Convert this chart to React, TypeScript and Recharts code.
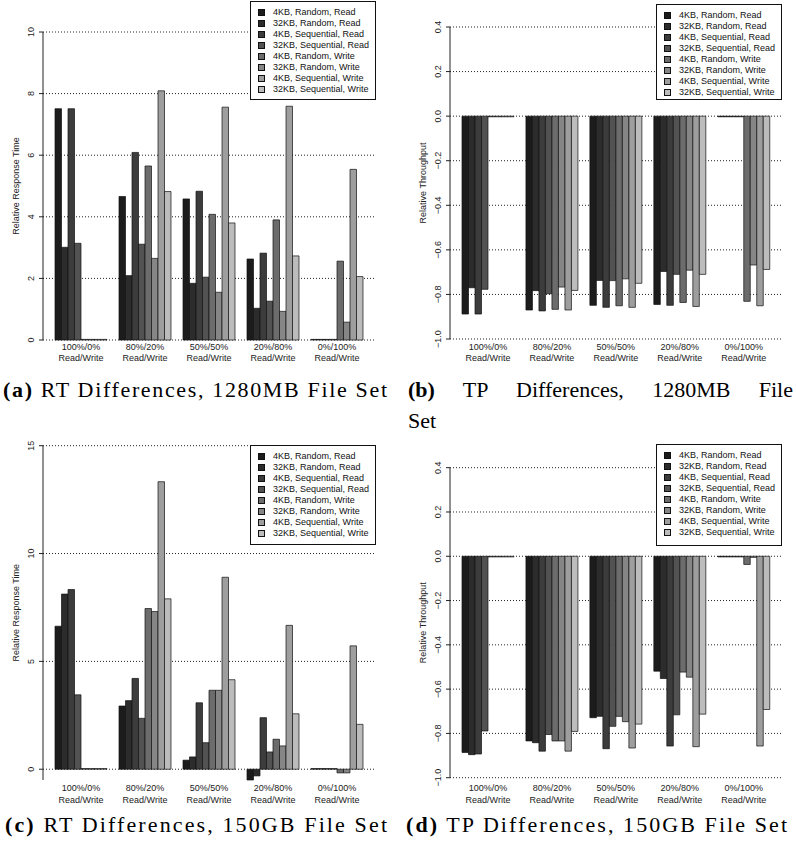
import React from 'react';
import { BarChart, Bar, XAxis, YAxis, CartesianGrid, Legend } from 'recharts';

const CATEGORIES = ['100%/0%', '80%/20%', '50%/50%', '20%/80%', '0%/100%'];
const CATEGORY_SUFFIX = 'Read/Write';
const SERIES = [
  '4KB, Random, Read',
  '32KB, Random, Read',
  '4KB, Sequential, Read',
  '32KB, Sequential, Read',
  '4KB, Random, Write',
  '32KB, Random, Write',
  '4KB, Sequential, Write',
  '32KB, Sequential, Write',
];
const COLORS = ['#1c1c1c', '#2c2c2c', '#3c3c3c', '#525252', '#6c6c6c', '#868686', '#9e9e9e', '#bcbcbc'];

const RT_TICKS_1280 = [0, 2, 4, 6, 8, 10];
const RT_TICKS_150 = [0, 5, 10, 15];
const TP_TICKS = [-1, -0.8, -0.6, -0.4, -0.2, 0, 0.2, 0.4];

// rows = series, columns = categories
const RT_1280MB = [
  [7.51, 4.66, 4.58, 2.63, 0.02],
  [3.01, 2.09, 1.84, 1.03, 0.02],
  [7.51, 6.09, 4.83, 2.82, 0.02],
  [3.14, 3.11, 2.04, 1.26, 0.02],
  [0.02, 5.65, 4.08, 3.9, 2.56],
  [0.02, 2.65, 1.55, 0.93, 0.58],
  [0.02, 8.09, 7.56, 7.59, 5.54],
  [0.02, 4.82, 3.8, 2.73, 2.06],
];

const TP_1280MB = [
  [-0.888, -0.87, -0.849, -0.845, -0.003],
  [-0.77, -0.783, -0.737, -0.697, -0.003],
  [-0.888, -0.874, -0.858, -0.849, -0.003],
  [-0.777, -0.797, -0.738, -0.71, -0.003],
  [-0.003, -0.867, -0.851, -0.836, -0.831],
  [-0.003, -0.767, -0.73, -0.691, -0.668],
  [-0.003, -0.87, -0.858, -0.854, -0.851],
  [-0.003, -0.782, -0.75, -0.71, -0.688],
];

const RT_150GB = [
  [6.63, 2.93, 0.42, -0.5, 0.03],
  [8.12, 3.18, 0.57, -0.31, 0.03],
  [8.33, 4.21, 3.08, 2.39, 0.03],
  [3.45, 2.36, 1.23, 0.8, 0.03],
  [0.03, 7.45, 3.66, 1.39, -0.17],
  [0.03, 7.31, 3.66, 1.08, -0.17],
  [0.03, 13.33, 8.9, 6.67, 5.72],
  [0.03, 7.9, 4.15, 2.57, 2.08],
];

const TP_150GB = [
  [-0.886, -0.834, -0.729, -0.519, -0.003],
  [-0.896, -0.842, -0.723, -0.552, -0.003],
  [-0.893, -0.88, -0.869, -0.857, -0.003],
  [-0.789, -0.805, -0.768, -0.716, -0.003],
  [-0.003, -0.834, -0.723, -0.523, -0.037],
  [-0.003, -0.834, -0.747, -0.546, -0.005],
  [-0.003, -0.88, -0.866, -0.86, -0.857],
  [-0.003, -0.791, -0.758, -0.713, -0.692],
];

const SANS = '"Liberation Sans", Arial, Helvetica, sans-serif';
const SERIF = '"Liberation Serif", "Times New Roman", serif';

function toRows(values: number[][]) {
  return CATEGORIES.map((cat, i) => {
    const row: any = { cat };
    values.forEach((s, k) => {
      row['s' + k] = s[i];
    });
    return row;
  });
}

const fmtInt = (v: number) => String(v);
const fmtTP = (v: number) => {
  const s = Math.abs(v).toFixed(1);
  return v < -1e-9 ? '\u2212' + s : s;
};

function XTick(props: any) {
  const { x, y, payload, o1, o2 } = props;
  return (
    <g>
      <text x={x} y={y + o1} textAnchor="middle" fontSize={9} fontFamily={SANS} fill="#222">
        {payload.value}
      </text>
      <text x={x} y={y + o2} textAnchor="middle" fontSize={9} fontFamily={SANS} fill="#222">
        {CATEGORY_SUFFIX}
      </text>
    </g>
  );
}

function YTick(props: any) {
  const { x, y, payload, fmt } = props;
  const bx = x - 5;
  return (
    <text x={bx} y={y} transform={`rotate(-90 ${bx} ${y})`} textAnchor="middle" fontSize={9} fontFamily={SANS} fill="#222">
      {fmt(payload.value)}
    </text>
  );
}

function LegendBox({ h }: { h: number }) {
  return (
    <div
      style={{
        boxSizing: 'border-box',
        width: 126,
        height: h,
        border: '1px solid #111',
        background: '#fff',
        padding: '5px 0 0 7px',
        fontFamily: SANS,
        fontSize: 9,
        color: '#111',
      }}
    >
      {SERIES.map((s, k) => (
        <div key={s} style={{ display: 'flex', alignItems: 'center', height: 11, lineHeight: '11px', whiteSpace: 'nowrap' }}>
          <span
            style={{
              display: 'inline-block',
              boxSizing: 'border-box',
              width: 7,
              height: 7,
              border: '1px solid #111',
              background: COLORS[k],
              marginRight: 8,
            }}
          />
          {s}
        </div>
      ))}
    </div>
  );
}

const X_AXIS_H = 30;

function Panel(p: any) {
  const data = toRows(p.values);
  return (
    <div style={{ position: 'absolute', left: p.left, top: p.top }}>
      <BarChart
        width={p.width}
        height={p.height}
        data={data}
        margin={{ top: p.mt, right: p.mr, bottom: p.mb - X_AXIS_H, left: 0 }}
        barGap={0}
      >
        <CartesianGrid
          vertical={false}
          horizontalValues={p.ticks}
          stroke="#222"
          strokeDasharray="1 2"
          strokeWidth={1}
        />
        <XAxis
          dataKey="cat"
          height={X_AXIS_H}
          axisLine={false}
          tickLine={false}
          tickSize={0}
          tickMargin={0}
          interval={0}
          padding={{ left: 6, right: 7 }}
          tick={(t: any) => <XTick {...t} o1={p.o1} o2={p.o2} />}
        />
        <YAxis
          width={p.yw}
          domain={p.domain}
          ticks={p.ticks}
          interval={0}
          axisLine={{ stroke: '#222' }}
          tickLine={{ stroke: '#222' }}
          tickSize={4}
          tickMargin={0}
          tick={(t: any) => <YTick {...t} fmt={p.fmt} />}
          label={{
            value: p.ylabel,
            angle: -90,
            position: 'insideLeft',
            offset: p.lo,
            style: { textAnchor: 'middle', fontSize: 9, fontFamily: SANS, fill: '#222' },
          }}
        />
        {SERIES.map((name, k) => (
          <Bar
            key={name}
            dataKey={'s' + k}
            name={name}
            fill={COLORS[k]}
            stroke="#111"
            strokeWidth={0.7}
            barSize={6.5}
            isAnimationActive={false}
          />
        ))}
        <Legend
          layout="vertical"
          align="center"
          verticalAlign="middle"
          wrapperStyle={{ left: p.lx, top: p.ly, width: 126, height: p.lh }}
          content={() => <LegendBox h={p.lh} />}
        />
      </BarChart>
    </div>
  );
}

function Caption({ x, y, len, tag, text }: any) {
  return (
    <text x={x} y={y} textLength={len} lengthAdjust="spacing" fontFamily={SERIF} fontSize={22} fill="#000">
      <tspan fontWeight="bold">{tag}</tspan>
      {' ' + text}
    </text>
  );
}

export default function App() {
  return (
    <div style={{ position: 'absolute', left: 0, top: 0, width: 796, height: 848, background: '#fff', overflow: 'hidden' }}>
      <Panel
        left={0} top={0} width={390} height={370} yw={43} mt={32} mr={14} mb={30}
        domain={[0, 10]} ticks={RT_TICKS_1280} fmt={fmtInt} values={RT_1280MB}
        ylabel="Relative Response Time" lo={16} o1={10} o2={21.3} lx={250} ly={1} lh={99}
      />
      <Panel
        left={400} top={0} width={396} height={370} yw={50} mt={27} mr={13.3} mb={31}
        domain={[-1, 0.4]} ticks={TP_TICKS} fmt={fmtTP} values={TP_1280MB}
        ylabel="Relative Throughput" lo={23} o1={11.3} o2={22.3} lx={256} ly={4} lh={96}
      />
      <Panel
        left={0} top={420} width={390} height={390} yw={43} mt={25.7} mr={14} mb={30}
        domain={[-0.5, 15]} ticks={RT_TICKS_150} fmt={fmtInt} values={RT_150GB}
        ylabel="Relative Response Time" lo={16} o1={11} o2={22.6} lx={250} ly={25} lh={100}
      />
      <Panel
        left={400} top={420} width={396} height={390} yw={50} mt={47.7} mr={13.3} mb={32.3}
        domain={[-1, 0.4]} ticks={TP_TICKS} fmt={fmtTP} values={TP_150GB}
        ylabel="Relative Throughput" lo={23} o1={13.3} o2={25} lx={256} ly={24} lh={102}
      />
      <svg width={796} height={848} style={{ position: 'absolute', left: 0, top: 0, pointerEvents: 'none' }}>
        <Caption x={3} y={397} len={384} tag="(a)" text="RT Differences, 1280MB File Set" />
        <Caption x={5} y={832} len={382} tag="(c)" text="RT Differences, 150GB File Set" />
        <Caption x={406} y={832} len={381} tag="(d)" text="TP Differences, 150GB File Set" />
      </svg>
      <div
        style={{
          position: 'absolute', left: 408, top: 378.6, width: 385, fontFamily: SERIF, fontSize: 22,
          lineHeight: '22px', textAlign: 'justify', textAlignLast: 'justify', color: '#000',
        }}
      >
        <b>(b)</b> TP Differences, 1280MB File
      </div>
      <div
        style={{ position: 'absolute', left: 408, top: 409.6, fontFamily: SERIF, fontSize: 22, lineHeight: '22px', color: '#000' }}
      >
        Set
      </div>
    </div>
  );
}
